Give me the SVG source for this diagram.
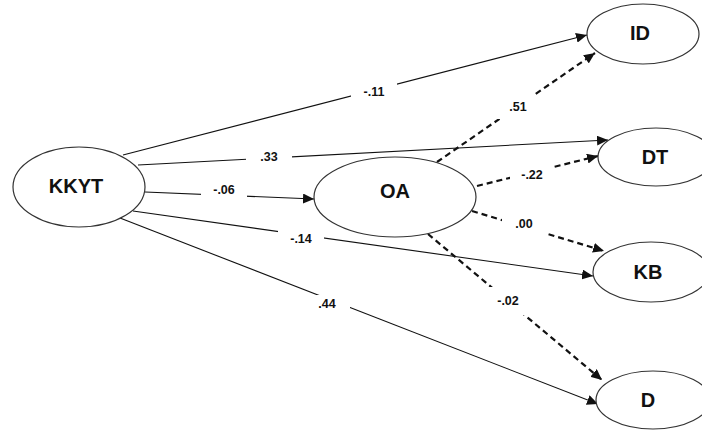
<svg xmlns="http://www.w3.org/2000/svg" width="702" height="430" viewBox="0 0 702 430">
<style>
.node ellipse{fill:#fff;stroke:#333;stroke-width:1.2}
.node text{font-family:"Liberation Sans",Arial,sans-serif;font-weight:bold;font-size:20px;fill:#111;text-anchor:middle;dominant-baseline:central}
.solid{stroke:#111;stroke-width:1.1;fill:none;marker-end:url(#ah)}
.dash{stroke:#111;stroke-width:2.2;fill:none;stroke-dasharray:6 4;marker-end:url(#ah)}
.lbl rect{fill:#fff}
.lbl text{font-family:"Liberation Sans",Arial,sans-serif;font-weight:bold;font-size:12.5px;fill:#111;text-anchor:middle;dominant-baseline:central}
</style>
<defs>
<marker id="ah" markerUnits="userSpaceOnUse" markerWidth="12" markerHeight="10" refX="11" refY="5" orient="auto">
<path d="M0,0 L11,5 L0,10 Z" fill="#111"/>
</marker>
</defs>
<rect width="702" height="430" fill="#fff"/>
<g id="connectors">
<line class="solid" x1="123" y1="155" x2="587" y2="35"/>
<line class="solid" x1="138" y1="165" x2="608" y2="140"/>
<line class="solid" x1="145" y1="192" x2="314" y2="199"/>
<line class="solid" x1="133" y1="211" x2="593" y2="276"/>
<line class="solid" x1="120" y1="218" x2="598" y2="404"/>
<line class="dash" x1="437" y1="162" x2="595" y2="53"/>
<line class="dash" x1="477" y1="186" x2="598" y2="156"/>
<line class="dash" x1="472" y1="211" x2="604" y2="251"/>
<line class="dash" x1="428" y1="234" x2="602" y2="380"/>
</g>
<g id="labels">
<g class="lbl"><rect x="351" y="83" width="46" height="18"/><text x="374" y="92">-.11</text></g>
<g class="lbl"><rect x="246" y="148" width="46" height="18"/><text x="269" y="157">.33</text></g>
<g class="lbl"><rect x="201" y="181" width="46" height="18"/><text x="224" y="190">-.06</text></g>
<g class="lbl"><rect x="278" y="230" width="46" height="18"/><text x="301" y="239">-.14</text></g>
<g class="lbl"><rect x="304" y="295" width="46" height="18"/><text x="327" y="304">.44</text></g>
<g class="lbl"><rect x="496" y="95" width="44" height="24"/><text x="518" y="107">.51</text></g>
<g class="lbl"><rect x="510" y="164" width="44" height="22"/><text x="532" y="175">-.22</text></g>
<g class="lbl"><rect x="502" y="213" width="44" height="22"/><text x="524" y="224">.00</text></g>
<g class="lbl"><rect x="488" y="287" width="40" height="28"/><text x="508" y="301">-.02</text></g>
</g>
<g id="KKYT" class="node"><ellipse cx="79" cy="187" rx="66" ry="40"/><text x="76" y="186">KKYT</text></g>
<g id="OA" class="node"><ellipse cx="395" cy="197" rx="81" ry="40"/><text x="395" y="191">OA</text></g>
<g id="ID" class="node"><ellipse cx="643" cy="34" rx="56" ry="30"/><text x="640" y="33">ID</text></g>
<g id="DT" class="node"><ellipse cx="656" cy="157" rx="58" ry="29"/><text x="655" y="157">DT</text></g>
<g id="KB" class="node"><ellipse cx="651" cy="272" rx="58" ry="30"/><text x="648" y="272">KB</text></g>
<g id="D" class="node"><ellipse cx="653" cy="400" rx="57" ry="29"/><text x="648" y="400">D</text></g>
</svg>
